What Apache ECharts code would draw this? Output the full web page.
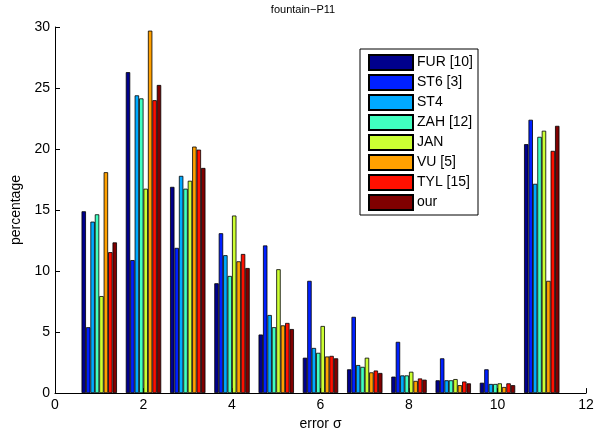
<!DOCTYPE html>
<html>
<head>
<meta charset="utf-8">
<script src="https://cdn.jsdelivr.net/npm/echarts@6/dist/echarts.min.js"></script>
<style>
    html, body { margin: 0; padding: 0; background: #fff; }
    #chart { width: 606px; height: 436px; }
</style>
</head>
<body>
<div id="chart"></div>
<script>
// error sigma bins (x positions of the groups)
const bins = [1, 2, 3, 4, 5, 6, 7, 8, 9, 10, 11];

const methods = ['FUR [10]', 'ST6 [3]', 'ST4', 'ZAH [12]', 'JAN', 'VU [5]', 'TYL [15]', 'our'];

// percentage per bin, one array per method
const fur = [14.9, 26.3, 16.9, 9.0, 4.8, 2.9, 1.95, 1.35, 1.05, 0.85, 20.4];
const st6 = [5.4, 10.9, 11.9, 13.1, 12.1, 9.2, 6.25, 4.2, 2.85, 1.95, 22.4];
const st4 = [14.05, 24.4, 17.8, 11.3, 6.4, 3.7, 2.3, 1.45, 1.05, 0.75, 17.15];
const zah = [14.65, 24.15, 16.75, 9.6, 5.4, 3.3, 2.15, 1.45, 1.05, 0.75, 21.0];
const jan = [7.95, 16.75, 17.4, 14.55, 10.15, 5.5, 2.9, 1.75, 1.15, 0.8, 21.5];
const vu = [18.1, 29.7, 20.2, 10.8, 5.55, 3.0, 1.7, 1.0, 0.65, 0.5, 9.2];
const tyl = [11.55, 24.0, 19.95, 11.4, 5.75, 3.05, 1.85, 1.2, 0.95, 0.8, 19.85];
const our = [12.35, 25.25, 18.45, 10.25, 5.25, 2.85, 1.65, 1.1, 0.8, 0.65, 21.9];

const values = [fur, st6, st4, zah, jan, vu, tyl, our];
const colors = ['#00008c', '#0020ff', '#00aaff', '#40ffc0', '#ccff33', '#ffa000', '#ff1000', '#800000'];

const xTicks = { min: 0, max: 12, interval: 2 };
const yTicks = { min: 0, max: 30, interval: 5 };

const font = 'Liberation Sans, Arial, sans-serif';

const series = methods.map(function (name, i) {
    return {
        name: name,
        type: 'bar',
        barGap: '0%',
        barCategoryGap: '20%',
        itemStyle: { color: colors[i], borderColor: '#000', borderWidth: 0.8 },
        emphasis: { disabled: true },
        data: bins.map(function (b, j) { return [b, values[i][j]]; })
    };
});

const chart = echarts.init(document.getElementById('chart'));
chart.setOption({
    animation: false,
    title: {
        text: 'fountain\u2212P11',
        left: 'center',
        top: 4,
        padding: 0,
        textStyle: { fontFamily: font, fontSize: 11, fontWeight: 'normal', color: '#000' }
    },
    legend: {
        orient: 'vertical',
        left: 360,
        top: 49,
        padding: [5, 5, 4, 8],
        itemWidth: 44,
        itemHeight: 15,
        itemGap: 3,
        borderColor: '#000',
        borderWidth: 1,
        backgroundColor: '#fff',
        icon: 'rect',
        selectedMode: false,
        textStyle: { fontFamily: font, fontSize: 14, color: '#000', padding: [0, 0, 0, -1] },
        data: methods
    },
    grid: { left: 55, right: 20, top: 27, bottom: 41, containLabel: false },
    xAxis: {
        type: 'value',
        min: xTicks.min,
        max: xTicks.max,
        interval: xTicks.interval,
        name: 'error \u03c3',
        nameLocation: 'middle',
        nameGap: 21,
        nameTextStyle: { fontFamily: font, fontSize: 14, color: '#000' },
        axisLine: { lineStyle: { color: '#000', width: 1 } },
        axisTick: { inside: true, length: 5, lineStyle: { color: '#000' } },
        axisLabel: { fontFamily: font, fontSize: 14, color: '#000', margin: 5 },
        splitLine: { show: false }
    },
    yAxis: {
        type: 'value',
        min: yTicks.min,
        max: yTicks.max,
        interval: yTicks.interval,
        name: 'percentage',
        nameLocation: 'middle',
        nameGap: 23,
        nameRotate: 90,
        nameTextStyle: { fontFamily: font, fontSize: 14, color: '#000' },
        axisLine: { show: true, lineStyle: { color: '#000', width: 1 } },
        axisTick: { show: true, inside: true, length: 5, lineStyle: { color: '#000' } },
        axisLabel: { fontFamily: font, fontSize: 14, color: '#000', margin: 5 },
        splitLine: { show: false }
    },
    series: series
});
</script>
</body>
</html>
